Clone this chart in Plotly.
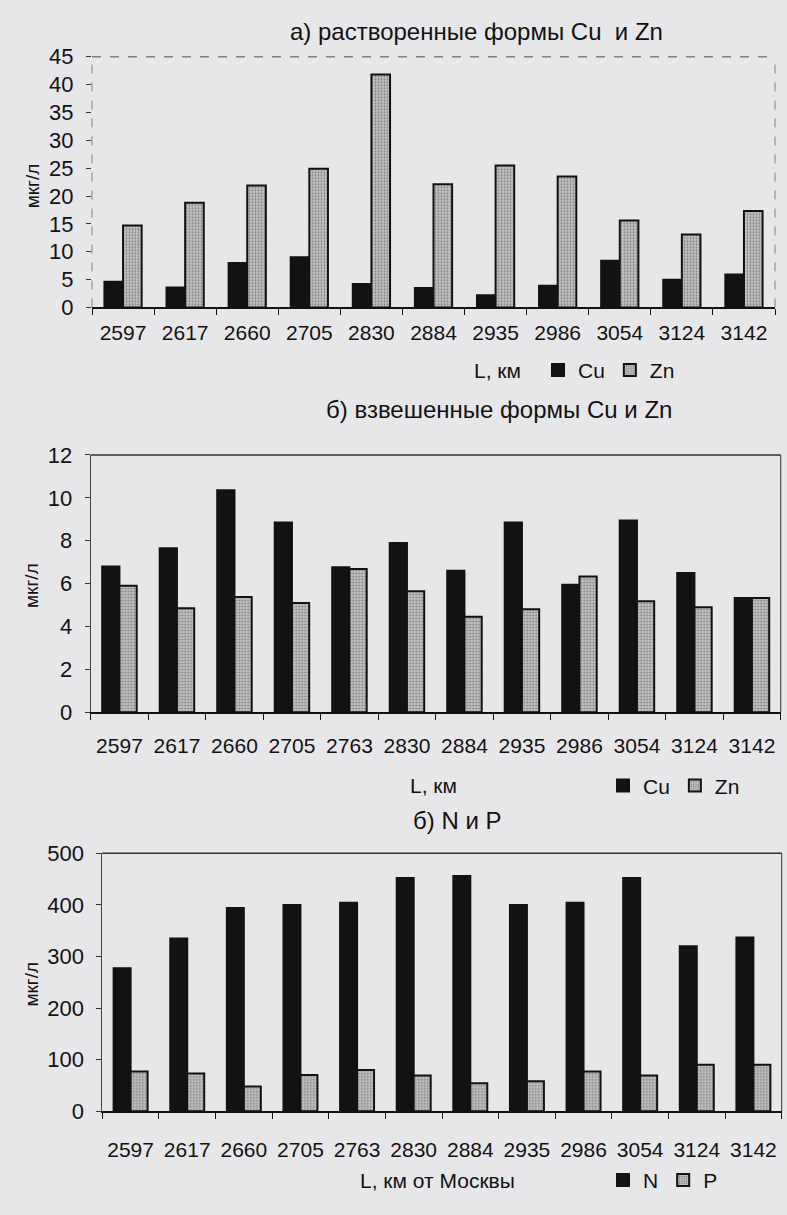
import plotly.graph_objects as go

# --- data -------------------------------------------------------------
# a) dissolved forms, distance from Moscow (km)
km_dissolved = ["2597", "2617", "2660", "2705", "2830", "2884",
                "2935", "2986", "3054", "3124", "3142"]
cu_dissolved = [4.6, 3.6, 8.0, 9.0, 4.2, 3.5, 2.2, 3.9, 8.4, 5.0, 5.9]
zn_dissolved = [14.7, 18.8, 21.9, 24.9, 41.8, 22.1, 25.5, 23.5, 15.6, 13.1, 17.3]

# б) suspended forms and nutrients
km_stations = ["2597", "2617", "2660", "2705", "2763", "2830",
               "2884", "2935", "2986", "3054", "3124", "3142"]
cu_suspended = [6.8, 7.65, 10.35, 8.85, 6.76, 7.9, 6.6, 8.85, 5.95, 8.95, 6.5, 5.33]
zn_suspended = [5.9, 4.85, 5.38, 5.1, 6.68, 5.65, 4.45, 4.8, 6.33, 5.18, 4.9, 5.33]
n_values = [277, 335, 394, 400, 404, 452, 456, 400, 404, 452, 320, 337]
p_values = [77, 73, 48, 70, 80, 69, 54, 58, 77, 69, 90, 90]

# --- styling ----------------------------------------------------------
W, H = 787, 1215
BG = "#e7e7ea"
INK = "#121212"
FONT = "Liberation Sans, Arial, sans-serif"


def px(x):
    return x / W


def py(y):
    return 1 - y / H


dark = dict(color=INK, line=dict(color=INK, width=2))
stipple = dict(
    color="#b4b4b4",
    line=dict(color=INK, width=2),
    pattern=dict(shape=".", fgcolor="#3c3c3c", bgcolor="#c2c2c2", size=3, solidity=0.3),
)

fig = go.Figure()

fig.add_trace(go.Bar(x=km_dissolved, y=cu_dissolved, name="Cu", marker=dark,
                     xaxis="x", yaxis="y", legend="legend"))
fig.add_trace(go.Bar(x=km_dissolved, y=zn_dissolved, name="Zn", marker=stipple,
                     xaxis="x", yaxis="y", legend="legend"))
fig.add_trace(go.Bar(x=km_stations, y=cu_suspended, name="Cu", marker=dark,
                     xaxis="x2", yaxis="y2", legend="legend2"))
fig.add_trace(go.Bar(x=km_stations, y=zn_suspended, name="Zn", marker=stipple,
                     xaxis="x2", yaxis="y2", legend="legend2"))
fig.add_trace(go.Bar(x=km_stations, y=n_values, name="N", marker=dark,
                     xaxis="x3", yaxis="y3", legend="legend3"))
fig.add_trace(go.Bar(x=km_stations, y=p_values, name="P", marker=stipple,
                     xaxis="x3", yaxis="y3", legend="legend3"))


def xax(domain, anchor, standoff):
    return dict(domain=domain, anchor=anchor, type="category",
                showline=True, linecolor=INK, linewidth=1.5,
                ticks="outside", tickson="boundaries", ticklen=6, tickcolor=INK,
                showgrid=False, zeroline=False,
                tickfont=dict(size=21, color=INK), ticklabelstandoff=standoff)


def yax(domain, anchor, rng, dtick, line=True):
    return dict(domain=domain, anchor=anchor, range=rng, dtick=dtick,
                showline=line, linecolor="#444", linewidth=1,
                ticks="outside", ticklen=5, tickcolor="#333",
                showgrid=False, zeroline=False,
                tickfont=dict(size=22, color=INK), ticklabelstandoff=8)


legend_common = dict(orientation="h", xanchor="left", yanchor="middle",
                     bgcolor="rgba(0,0,0,0)", font=dict(size=21, color=INK),
                     itemwidth=30, traceorder="normal")

fig.update_layout(
    width=W, height=H,
    margin=dict(l=0, r=0, t=0, b=0),
    paper_bgcolor=BG, plot_bgcolor=BG,
    font=dict(family=FONT, color=INK),
    barmode="group", bargap=0.4, bargroupgap=0,
    xaxis=xax([px(92), px(775)], "y", 6),
    yaxis=yax([py(301.7), py(45.7)], "x", [0, 45], 5, line=False),
    xaxis2=xax([px(90.7), px(780.7)], "y2", 14),
    yaxis2=yax([py(715), py(452.3)], "x2", [0, 12], 2),
    xaxis3=xax([px(102.3), px(781.7)], "y3", 19),
    yaxis3=yax([py(1122.3), py(859)], "x3", [0, 500], 100),
    legend=dict(x=px(538), y=py(366), **legend_common),
    legend2=dict(x=px(603), y=py(790), **legend_common),
    legend3=dict(x=px(603), y=py(1193), **legend_common),
)

# plot frames: dashed in the first panel, solid in the others
frames = [("x", "y", "dash"), ("x2", "y2", "solid"), ("x3", "y3", "solid")]
for xa, ya, dash in frames:
    col = "#808080" if dash == "dash" else "#333"
    fig.add_shape(type="line", xref=f"{xa} domain", yref=f"{ya} domain",
                  x0=0, x1=1, y0=1, y1=1, line=dict(color=col, width=1.5, dash=dash))
    fig.add_shape(type="line", xref=f"{xa} domain", yref=f"{ya} domain",
                  x0=1, x1=1, y0=0, y1=1, line=dict(color=col, width=1, dash=dash))
# dashed left border of the first panel
fig.add_shape(type="line", xref="x domain", yref="y domain",
              x0=0, x1=0, y0=0, y1=1, line=dict(color="#808080", width=1, dash="dash"))

texts = [
    ("а) растворенные формы Cu  и Zn", 476, 20, 24, 0),
    ("б) взвешенные формы Cu и Zn", 499, 406, 24, 0),
    ("б) N и P", 457, 825, 24, 0),
    ("L, км", 497, 366, 21, 0),
    ("L, км", 433, 790, 21, 0),
    ("L, км от Москвы", 437, 1193, 21, 0),
    ("мкг/л", 32, 178, 19, -90),
    ("мкг/л", 32, 586, 19, -90),
    ("мкг/л", 32, 993, 19, -90),
]
for txt, x, y, size, ang in texts:
    fig.add_annotation(text=txt, xref="paper", yref="paper", x=px(x), y=py(y),
                       xanchor="center", yanchor="middle", showarrow=False,
                       textangle=ang, font=dict(size=size, color=INK))

fig.write_html("out.html")
